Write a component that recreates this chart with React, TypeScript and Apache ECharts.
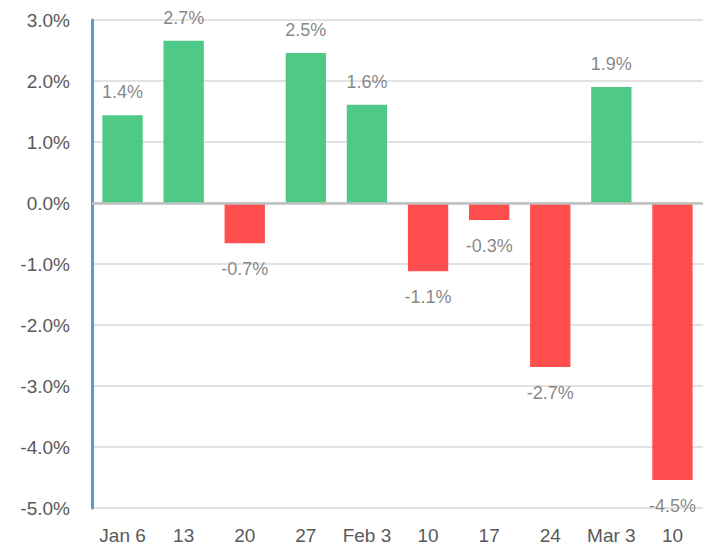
import React, { useEffect, useRef } from "react";
import * as echarts from "echarts";

const categories = ["Jan 6", "13", "20", "27", "Feb 3", "10", "17", "24", "Mar 3", "10"];
const values = [1.44, 2.66, -0.66, 2.46, 1.61, -1.12, -0.28, -2.69, 1.9, -4.54];
const yTicks = { min: -5, max: 3, interval: 1 };

const GREEN = "#45C67F";
const RED = "#FF4545";
const FONT = "'Liberation Sans', Arial, sans-serif";

export default function App() {
  const ref = useRef<HTMLDivElement>(null);
  useEffect(() => {
    if (!ref.current) return;
    const chart = echarts.init(ref.current, null, { renderer: "svg" });
    chart.setOption({
      animation: false,
      grid: { left: 92, top: 20, right: 10, bottom: 44, containLabel: false },
      xAxis: {
        type: "category",
        data: categories,
        axisLine: { show: false, onZero: false },
        axisTick: { show: false },
        axisLabel: { color: "#595959", fontSize: 19, fontFamily: FONT, margin: 18, interval: 0 },
      },
      yAxis: {
        type: "value",
        min: yTicks.min,
        max: yTicks.max,
        interval: yTicks.interval,
        axisLine: { show: true, lineStyle: { color: "#5B9BD5", width: 3 } },
        axisTick: { show: false },
        splitLine: { show: true, lineStyle: { color: "#D9D9D9", width: 1.5 } },
        axisLabel: {
          color: "#595959",
          fontSize: 19,
          fontFamily: FONT,
          margin: 22,
          formatter: (v: number) => v.toFixed(1) + "%",
        },
      },
      series: [
        {
          type: "bar",
          barWidth: "66%",
          data: values.map((v) => ({
            value: v,
            itemStyle: { color: v >= 0 ? GREEN : RED, opacity: 0.95 },
            label: {
              show: true,
              position: v >= 0 ? "top" : "bottom",
              distance: v >= 0 ? 14 : 17,
            },
          })),
          label: {
            color: "#808080",
            fontSize: 18,
            fontFamily: FONT,
            formatter: (p: any) => Number(p.value).toFixed(1) + "%",
          },
          markLine: {
            silent: true,
            symbol: "none",
            label: { show: false },
            lineStyle: { color: "#BFBFBF", width: 2.5, type: "solid" },
            data: [{ yAxis: 0 }],
          },
        },
      ],
    });
    return () => chart.dispose();
  }, []);
  return <div ref={ref} style={{ width: 713, height: 552, position: "absolute", left: 0, top: 0 }} />;
}
